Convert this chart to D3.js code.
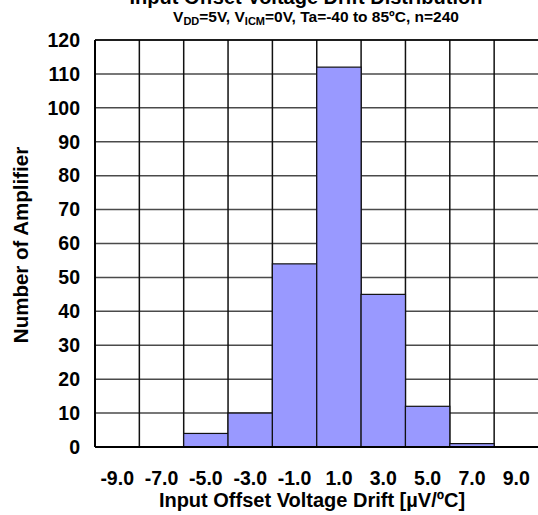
<!DOCTYPE html>
<html lang="en">
<head>
<meta charset="UTF-8">
<title>Input Offset Voltage Drift Distribution</title>
<script src="https://d3js.org/d3.v7.min.js"></script>
<style>
  body { margin: 0; background: #fff; }
  svg text { font-family: Arial, "Liberation Sans", sans-serif; font-weight: bold; fill: #000; }
</style>
</head>
<body>
<div id="chart"></div>
<script>
// histogram bins (center of bin, uV/C) and counts
var bins = ["-9.0", "-7.0", "-5.0", "-3.0", "-1.0", "1.0", "3.0", "5.0", "7.0", "9.0"];
var counts = [0, 0, 4, 10, 54, 112, 45, 12, 1, 0];
var yTicks = [0, 10, 20, 30, 40, 50, 60, 70, 80, 90, 100, 110, 120];

var data = bins.map(function(b, i) { return {bin: b, n: counts[i]}; });

var W = 538, H = 515;
var margin = {top: 40, right: 0, bottom: 68, left: 95},
    width = 443.5,
    height = H - margin.top - margin.bottom;

var svg = d3.select("#chart").append("svg")
    .attr("width", W).attr("height", H);

var g = svg.append("g")
    .attr("transform", "translate(" + margin.left + "," + margin.top + ")");

var x = d3.scaleBand().domain(bins).range([0, width]).padding(0);
var y = d3.scaleLinear().domain([0, 120]).range([height, 0]);

// horizontal grid
g.append("g")
  .selectAll("line")
  .data(yTicks.slice(1))
  .join("line")
    .attr("x1", 0).attr("x2", width)
    .attr("y1", function(d) { return y(d); })
    .attr("y2", function(d) { return y(d); })
    .attr("stroke", "#4a4a4a").attr("stroke-width", 1.5);

// vertical grid at bin edges
g.append("g")
  .selectAll("line")
  .data(bins.slice(1))
  .join("line")
    .attr("x1", function(d) { return x(d); })
    .attr("x2", function(d) { return x(d); })
    .attr("y1", 0).attr("y2", height)
    .attr("stroke", "#111").attr("stroke-width", 1.5);

// bars
g.append("g")
  .selectAll("rect")
  .data(data.filter(function(d) { return d.n > 0; }))
  .join("rect")
    .attr("x", function(d) { return x(d.bin); })
    .attr("y", function(d) { return y(d.n); })
    .attr("width", x.bandwidth())
    .attr("height", function(d) { return height - y(d.n); })
    .attr("fill", "#9999ff")
    .attr("stroke", "#111")
    .attr("stroke-width", 1.2);

// frame: left, bottom, top
g.append("line").attr("x1", 0).attr("x2", 0).attr("y1", 0).attr("y2", height)
  .attr("stroke", "#000").attr("stroke-width", 2);
g.append("line").attr("x1", 0).attr("x2", width).attr("y1", height).attr("y2", height)
  .attr("stroke", "#000").attr("stroke-width", 2.2);
g.append("line").attr("x1", 0).attr("x2", width).attr("y1", 0).attr("y2", 0)
  .attr("stroke", "#000").attr("stroke-width", 1.5);

// y axis labels
var yAxis = g.append("g")
  .call(d3.axisLeft(y).tickValues(yTicks).tickSize(0).tickPadding(15));
yAxis.select(".domain").remove();
yAxis.selectAll("text").style("font-size", "19.5px");

// x axis labels
var xAxis = g.append("g")
  .attr("transform", "translate(0," + height + ")")
  .call(d3.axisBottom(x).tickSize(0).tickPadding(24));
xAxis.select(".domain").remove();
xAxis.selectAll("text").style("font-size", "19.5px");

// axis titles
svg.append("text")
  .attr("x", 312).attr("y", 507)
  .attr("text-anchor", "middle")
  .style("font-size", "20px")
  .text("Input Offset Voltage Drift [\u00b5V/\u00baC]");

svg.append("text")
  .attr("transform", "translate(28,245) rotate(-90)")
  .attr("text-anchor", "middle")
  .style("font-size", "20.5px")
  .text("Number of Amplifier");

// chart title (partly above the top edge) and conditions
svg.append("text")
  .attr("x", 306).attr("y", 4)
  .attr("text-anchor", "middle")
  .style("font-size", "20px")
  .text("Input Offset Voltage Drift Distribution");

var sub = svg.append("text")
  .attr("x", 316).attr("y", 22)
  .attr("text-anchor", "middle")
  .style("font-size", "15.5px");
sub.append("tspan").text("V");
sub.append("tspan").attr("dy", 3).style("font-size", "11px").text("DD");
sub.append("tspan").attr("dy", -3).text("=5V, V");
sub.append("tspan").attr("dy", 3).style("font-size", "11px").text("ICM");
sub.append("tspan").attr("dy", -3).text("=0V, Ta=-40 to 85\u00baC, n=240");
</script>
</body>
</html>
